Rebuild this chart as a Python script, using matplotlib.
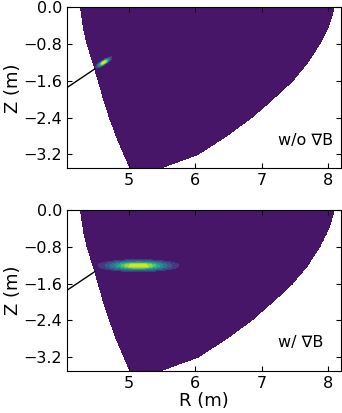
import numpy as np
import matplotlib.pyplot as plt

# plasma boundary (m)
edge_Z = [0.0, -0.4, -0.8, -1.2, -1.6, -2.0, -2.4, -2.8, -3.2, -3.5]
edge_R_in = [4.26, 4.30, 4.36, 4.45, 4.53, 4.61, 4.70, 4.80, 4.92, 5.01]
edge_R_out = [8.10, 8.02, 7.88, 7.70, 7.47, 7.17, 6.85, 6.47, 6.04, 5.47]

# beam sight line (launcher side -> plasma edge)
beam_R = [3.9, 4.48]
beam_Z = [-1.90, -1.34]

# deposition spots: centre R, centre Z, long sigma, short sigma, tilt (deg)
panels = ["w/o \u2207B", "w/ \u2207B"]
spot_R = [4.615, 5.14]
spot_Z = [-1.20, -1.21]
spot_sig_long = [0.08, 0.29]
spot_sig_short = [0.022, 0.062]
spot_tilt = [44.0, 0.0]

yticks = [0.0, -0.8, -1.6, -2.4, -3.2]
xticks = [5, 6, 7, 8]

plt.rcParams['font.size'] = 11.5
plt.rcParams['xtick.direction'] = 'in'
plt.rcParams['ytick.direction'] = 'in'
plt.rcParams['xtick.top'] = True
plt.rcParams['ytick.right'] = True

R, Z = np.meshgrid(np.linspace(4.0, 8.3, 900), np.linspace(-3.6, 0.05, 760))
zz = np.array(edge_Z[::-1])
r_in = np.interp(Z, zz, np.array(edge_R_in[::-1]))
r_out = np.interp(Z, zz, np.array(edge_R_out[::-1]))
outside = (R < r_in) | (R > r_out)

fig = plt.figure(figsize=(3.42, 4.13), dpi=100)
ax1 = fig.add_axes([0.196, 0.5925, 0.801, 0.39])
ax2 = fig.add_axes([0.196, 0.1017, 0.801, 0.39])
text_x = [0.77, 0.77]

for i, ax in enumerate([ax1, ax2]):
    th = np.deg2rad(spot_tilt[i])
    dr = R - spot_R[i]
    dz = Z - spot_Z[i]
    u = dr * np.cos(th) + dz * np.sin(th)
    v = -dr * np.sin(th) + dz * np.cos(th)
    f = np.exp(-0.5 * (u / spot_sig_long[i])**2 - 0.5 * (v / spot_sig_short[i])**2)
    f = np.ma.masked_where(outside, f)
    ax.contourf(R, Z, f, levels=np.linspace(0, 1.0, 10), cmap='viridis')
    ax.plot(beam_R, beam_Z, color='k', lw=1)
    ax.set_xlim(4.06, 8.2)
    ax.set_ylim(-3.5, 0.0)
    ax.set_xticks(xticks)
    ax.set_yticks(yticks)
    ax.set_yticklabels(['%.1f' % t if t == 0 else '\u2212%.1f' % abs(t) for t in yticks])
    ax.set_ylabel('Z (m)', fontsize=13, labelpad=1)
    ax.text(text_x[i], 0.175, panels[i], transform=ax.transAxes, ha='left', va='center', fontsize=11.5)

ax2.set_xlabel('R (m)', fontsize=13, labelpad=1)

plt.savefig('out.png', dpi=100)
